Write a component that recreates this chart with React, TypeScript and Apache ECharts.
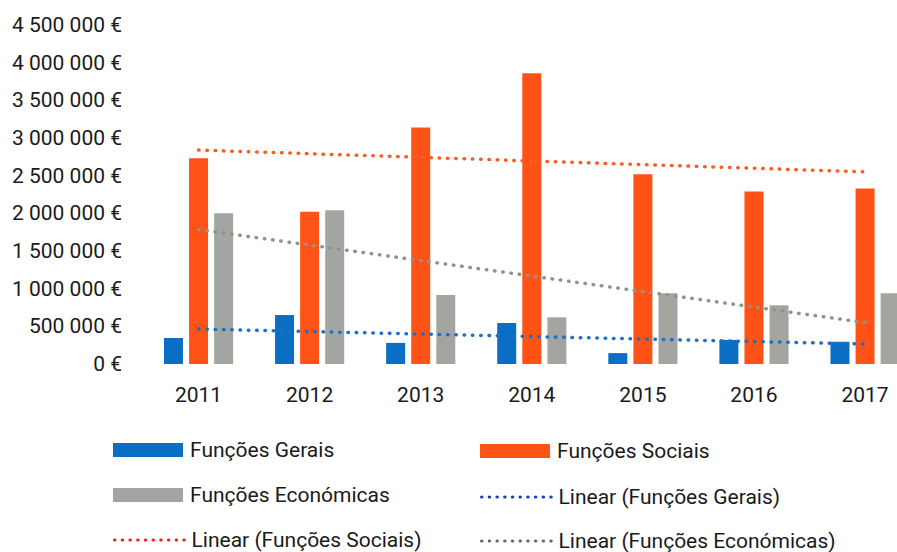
import React, { useEffect, useRef } from "react";
import * as echarts from "echarts";

const years = ["2011", "2012", "2013", "2014", "2015", "2016", "2017"];
const funcoesGerais = [345000, 650000, 280000, 545000, 145000, 320000, 295000];
const funcoesSociais = [2730000, 2020000, 3140000, 3860000, 2520000, 2290000, 2330000];
const funcoesEconomicas = [2000000, 2040000, 915000, 620000, 940000, 780000, 940000];
// trend line endpoints (2011, 2017)
const trendGerais = [464000, null, null, null, null, null, 265000];
const trendSociais = [2840000, null, null, null, null, null, 2550000];
const trendEconomicas = [1785000, null, null, null, null, null, 550000];

const FONT = "Roboto, 'Noto Sans', sans-serif";
const TEXT = "#1a1a1a";

const fmtEuro = (v: number) =>
  (v === 0 ? "0" : String(Math.round(v)).replace(/\B(?=(\d{3})+(?!\d))/g, " ")) + " €";

export default function App() {
  const ref = useRef<HTMLDivElement>(null);
  useEffect(() => {
    if (!ref.current) return;
    const chart = echarts.init(ref.current, undefined, { renderer: "svg" });
    const dotted = (color: string) => ({
      color,
      width: 3.5,
      type: [0.5, 7.8] as number[],
      cap: "round" as const,
    });
    const legendText = { fontFamily: FONT, fontSize: 21, color: TEXT, lineHeight: 22, padding: [0, 0, 0, 2] };
    const mkLegend = (left: number, top: number, item: any) => ({
      orient: "horizontal",
      left,
      top,
      padding: 0,
      itemWidth: 70,
      itemHeight: 14,
      textStyle: legendText,
      selectedMode: false,
      data: [item],
    });
    const lineItem = (name: string, color: string) => ({
      name,
      itemStyle: { opacity: 0 },
      lineStyle: { color, width: 3, type: [0.5, 7.2], cap: "round" },
    });
    chart.setOption({
      animation: false,
      backgroundColor: "#ffffff",
      grid: { left: 143, right: 1.4, top: 25, bottom: 188, containLabel: false },
      legend: [
        mkLegend(113, 439, { name: "Funções Gerais", icon: "rect" }),
        mkLegend(113, 484, { name: "Funções Económicas", icon: "rect" }),
        mkLegend(113, 529, lineItem("Linear (Funções Sociais)", "#FF1A1A")),
        mkLegend(480, 440, { name: "Funções Sociais", icon: "rect" }),
        mkLegend(480, 486, lineItem("Linear (Funções Gerais)", "#1C3FB0")),
        mkLegend(480, 530, lineItem("Linear (Funções Económicas)", "#5E6E5C")),
      ],
      xAxis: {
        type: "category",
        data: years,
        axisLine: { show: false },
        axisTick: { show: false },
        axisLabel: { fontFamily: FONT, fontSize: 21, color: TEXT, margin: 20 },
      },
      yAxis: {
        type: "value",
        min: 0,
        max: 4500000,
        interval: 500000,
        splitLine: { show: false },
        axisLine: { show: false },
        axisTick: { show: false },
        axisLabel: {
          fontFamily: FONT,
          fontSize: 21,
          color: TEXT,
          margin: 21,
          formatter: (v: number) => fmtEuro(v),
        },
      },
      series: [
        {
          name: "Funções Gerais",
          type: "bar",
          data: funcoesGerais,
          barWidth: 19,
          barGap: "32%",
          itemStyle: { color: "#0A6EC4" },
        },
        {
          name: "Funções Sociais",
          type: "bar",
          data: funcoesSociais,
          barWidth: 19,
          barGap: "32%",
          itemStyle: { color: "#FF5216" },
        },
        {
          name: "Funções Económicas",
          type: "bar",
          data: funcoesEconomicas,
          barWidth: 19,
          barGap: "32%",
          itemStyle: { color: "#A3A6A0" },
        },
        {
          name: "Linear (Funções Gerais)",
          type: "line",
          data: trendGerais,
          connectNulls: true,
          symbol: "none",
          lineStyle: dotted("#1E6FC8"),
          itemStyle: { color: "#1E6FC8" },
          z: 5,
        },
        {
          name: "Linear (Funções Sociais)",
          type: "line",
          data: trendSociais,
          connectNulls: true,
          symbol: "none",
          lineStyle: dotted("#FF5A1F"),
          itemStyle: { color: "#FF5A1F" },
          z: 5,
        },
        {
          name: "Linear (Funções Económicas)",
          type: "line",
          data: trendEconomicas,
          connectNulls: true,
          symbol: "none",
          lineStyle: dotted("#8F938D"),
          itemStyle: { color: "#8F938D" },
          z: 5,
        },
      ],
    });
    return () => chart.dispose();
  }, []);
  return (
    <div
      style={{
        position: "fixed",
        left: 0,
        top: 0,
        width: 897,
        height: 552,
        overflow: "hidden",
        background: "#fff",
      }}
    >
      <div ref={ref} style={{ width: 922, height: 552 }} />
    </div>
  );
}
